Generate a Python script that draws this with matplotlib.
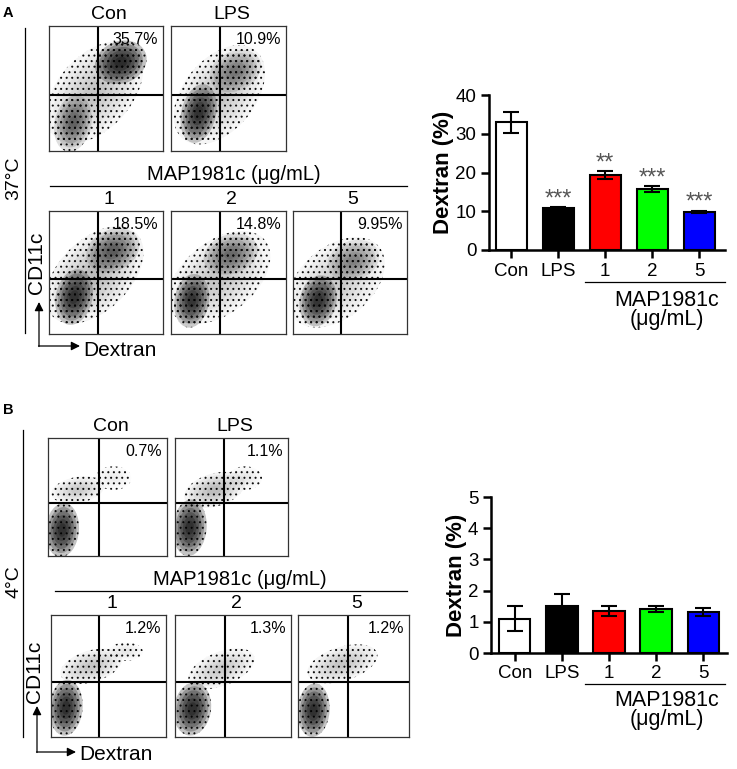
import matplotlib
matplotlib.use('Agg')
import matplotlib.pyplot as plt
from matplotlib.patches import Ellipse

plt.rcParams['font.family'] = ['Liberation Sans', 'DejaVu Sans']
plt.rcParams['hatch.linewidth'] = 0.7

W, H = 737, 769

# bar chart data
groups = ['Con', 'LPS', '1', '2', '5']
bar_colors = ['white', 'black', '#ff0000', '#00ff00', '#0000ff']
dex_37 = [33.0, 10.8, 19.4, 15.7, 9.8]
dex_37_err = [2.7, 0.2, 1.0, 0.7, 0.3]
stars_37 = ['', '***', '**', '***', '***']
dex_4 = [1.1, 1.5, 1.35, 1.4, 1.32]
dex_4_err = [0.4, 0.4, 0.15, 0.1, 0.12]

# dot plot quadrant percentages
dot_titles = ['Con', 'LPS', '1', '2', '5']
pct_37 = ['35.7%', '10.9%', '18.5%', '14.8%', '9.95%']
pct_4 = ['0.7%', '1.1%', '1.2%', '1.3%', '1.2%']

# cell clouds: (x, y, width, height, angle, darkness)
clouds_37 = [
    [(0.40, 0.47, 1.00, 0.62, 42, 0.22), (0.21, 0.22, 0.32, 0.46, -15, 0.55),
     (0.63, 0.71, 0.46, 0.34, 15, 0.80)],
    [(0.42, 0.45, 0.95, 0.60, 45, 0.22), (0.24, 0.30, 0.30, 0.48, -15, 0.75),
     (0.56, 0.64, 0.46, 0.32, 20, 0.45)],
    [(0.40, 0.48, 1.00, 0.60, 40, 0.25), (0.22, 0.30, 0.32, 0.46, -15, 0.75),
     (0.56, 0.68, 0.48, 0.34, 20, 0.55)],
    [(0.42, 0.46, 1.00, 0.60, 35, 0.22), (0.18, 0.27, 0.30, 0.44, -10, 0.75),
     (0.52, 0.65, 0.48, 0.32, 15, 0.50)],
    [(0.38, 0.42, 0.95, 0.60, 35, 0.20), (0.22, 0.27, 0.32, 0.42, -15, 0.75),
     (0.53, 0.60, 0.46, 0.32, 15, 0.40)],
]
clouds_4 = [
    [(0.12, 0.22, 0.28, 0.46, -5, 0.80), (0.25, 0.56, 0.45, 0.22, 10, 0.20),
     (0.55, 0.66, 0.30, 0.20, 0, 0.06)],
    [(0.13, 0.24, 0.30, 0.48, -5, 0.80), (0.35, 0.56, 0.55, 0.28, 15, 0.25),
     (0.62, 0.66, 0.30, 0.20, 0, 0.08)],
    [(0.13, 0.24, 0.29, 0.46, -5, 0.80), (0.35, 0.58, 0.55, 0.26, 15, 0.22),
     (0.65, 0.70, 0.30, 0.15, 0, 0.08)],
    [(0.15, 0.23, 0.32, 0.44, -10, 0.80), (0.40, 0.56, 0.60, 0.28, 20, 0.20)],
    [(0.14, 0.22, 0.29, 0.44, -5, 0.80), (0.40, 0.60, 0.65, 0.28, 15, 0.22)],
]

# layout in pixels
boxes_37 = [(49, 26, 163, 151), (171, 26, 286, 151), (49, 211, 163, 334),
            (171, 211, 286, 334), (293, 211, 407, 334)]
boxes_4 = [(48, 438, 167, 556), (175, 438, 288, 556), (51, 615, 166, 737),
           (175, 615, 291, 737), (298, 615, 409, 737)]
quad_37 = [(0.43, 0.45), (0.43, 0.45), (0.43, 0.445), (0.43, 0.445), (0.42, 0.445)]
quad_4 = [(0.43, 0.45), (0.43, 0.45), (0.42, 0.45), (0.43, 0.45), (0.45, 0.45)]


def px(x0, y0, x1, y1):
    return [x0 / W, 1 - y1 / H, (x1 - x0) / W, (y1 - y0) / H]


fig = plt.figure(figsize=(W / 100, H / 100), dpi=100)
ov = fig.add_axes([0, 0, 1, 1])
ov.set_xlim(0, W)
ov.set_ylim(H, 0)
ov.axis('off')

LAYERS = (1.0, 0.85, 0.7, 0.55, 0.4, 0.25)


def dot_plot(box, quad, clouds, pct):
    ax = fig.add_axes(px(*box))
    ax.set_xlim(0, 1)
    ax.set_ylim(0, 1)
    ax.set_xticks([])
    ax.set_yticks([])
    for s in ax.spines.values():
        s.set_linewidth(0.9)
        s.set_color('#333333')
    for (cx, cy, w, h, ang, dark) in clouds:
        # speckled region plus a soft core that darkens towards the centre
        ax.add_patch(Ellipse((cx, cy), w, h, angle=ang, facecolor='none',
                             edgecolor='#111111', lw=0, hatch='...'))
        a = 1 - (1 - dark) ** (1 / len(LAYERS))
        for s in LAYERS:
            ax.add_patch(Ellipse((cx, cy), w * s, h * s, angle=ang, facecolor='black',
                                 alpha=a, lw=0))
    ax.axvline(quad[0], color='black', lw=1.5)
    ax.axhline(quad[1], color='black', lw=1.5)
    ax.text(0.96, 0.95, pct, transform=ax.transAxes, ha='right', va='top', fontsize=11.5)
    return ax


for i in range(5):
    dot_plot(boxes_37[i], quad_37[i], clouds_37[i], pct_37[i])
    dot_plot(boxes_4[i], quad_4[i], clouds_4[i], pct_4[i])

# titles over dot plots
for i, b in enumerate(boxes_37):
    ov.text((b[0] + b[2]) / 2 + 3, b[1] - 3, dot_titles[i], ha='center', va='bottom', fontsize=14)
for i, b in enumerate(boxes_4):
    ov.text((b[0] + b[2]) / 2 + 3, b[1] - 3, dot_titles[i], ha='center', va='bottom', fontsize=14)

# panel letters, temperature brackets
ov.text(3, 13, 'A', fontsize=10.5, fontweight='bold', va='center')
ov.text(3, 410, 'B', fontsize=10.5, fontweight='bold', va='center')
ov.plot([25, 25], [28, 333], color='black', lw=0.9)
ov.text(14, 178, '37°C', rotation=90, ha='center', va='center', fontsize=14)
ov.plot([23, 23], [430, 737], color='black', lw=0.9)
ov.text(14, 582, '4°C', rotation=90, ha='center', va='center', fontsize=14)

# MAP1981c headers
ov.plot([50, 407], [186, 186], color='black', lw=0.9)
ov.text(234, 184, 'MAP1981c (μg/mL)', ha='center', va='bottom', fontsize=14.5)
ov.plot([55, 407], [591, 591], color='black', lw=0.9)
ov.text(240, 589, 'MAP1981c (μg/mL)', ha='center', va='bottom', fontsize=14.5)

# axis arrows: (corner x, corner y, arrow top, arrow right, Dextran y, CD11c y)
for (ax_x, ax_y, top, right, lab_y, cd_y) in [(39, 346, 302, 80, 350, 263),
                                              (37, 752, 706, 76, 755, 672)]:
    ov.annotate('', xy=(ax_x, top), xytext=(ax_x, ax_y + 0.5),
                arrowprops=dict(arrowstyle='-|>', color='black', lw=0.9, mutation_scale=13,
                                shrinkA=0, shrinkB=0))
    ov.annotate('', xy=(right, ax_y), xytext=(ax_x - 0.5, ax_y),
                arrowprops=dict(arrowstyle='-|>', color='black', lw=0.9, mutation_scale=13,
                                shrinkA=0, shrinkB=0))
    ov.text(right + 3, lab_y, 'Dextran', ha='left', va='center', fontsize=15)
    ov.text(ax_x - 2, cd_y, 'CD11c', rotation=90, ha='center', va='center', fontsize=15)


def bar_chart(rect, vals, errs, ymax, ystep, xlim, stars, under_y, label_y):
    ax = fig.add_axes(px(*rect))
    x = list(range(len(groups)))
    ax.bar(x, vals, width=0.66, color=bar_colors, edgecolor='black', linewidth=1.5, zorder=2)
    ax.errorbar(x, vals, yerr=errs, fmt='none', ecolor='black', elinewidth=1.5,
                capsize=6, capthick=1.5, zorder=3)
    if stars:
        for xi, v, e, s in zip(x, vals, errs, stars):
            ax.text(xi, v + e - ymax * 0.02, s, ha='center', va='bottom', fontsize=17,
                    color='#555555')
    ax.set_ylim(0, ymax)
    ax.set_xlim(*xlim)
    ax.set_yticks(range(0, ymax + 1, ystep))
    ax.set_xticks(x)
    ax.set_xticklabels(groups)
    ax.spines['top'].set_visible(False)
    ax.spines['right'].set_visible(False)
    ax.spines['left'].set_linewidth(1.8)
    ax.spines['bottom'].set_linewidth(1.8)
    ax.tick_params(width=1.8, length=6, labelsize=13.5, pad=3)
    ax.set_ylabel('Dextran (%)', fontsize=16, fontweight='bold', labelpad=1)
    ov.plot([585, 725], [under_y, under_y], color='black', lw=0.9)
    ov.text(667, label_y, 'MAP1981c', ha='center', va='center', fontsize=15.5)
    ov.text(667, label_y + 19, '(μg/mL)', ha='center', va='center', fontsize=15.5)
    return ax


bar_chart((489, 95, 725, 250), dex_37, dex_37_err, 40, 10, (-0.47, 4.55), stars_37, 282, 300)
bar_chart((491, 497, 727, 653), dex_4, dex_4_err, 5, 1, (-0.51, 4.51), None, 684, 701)

fig.savefig('out.png', dpi=100)
